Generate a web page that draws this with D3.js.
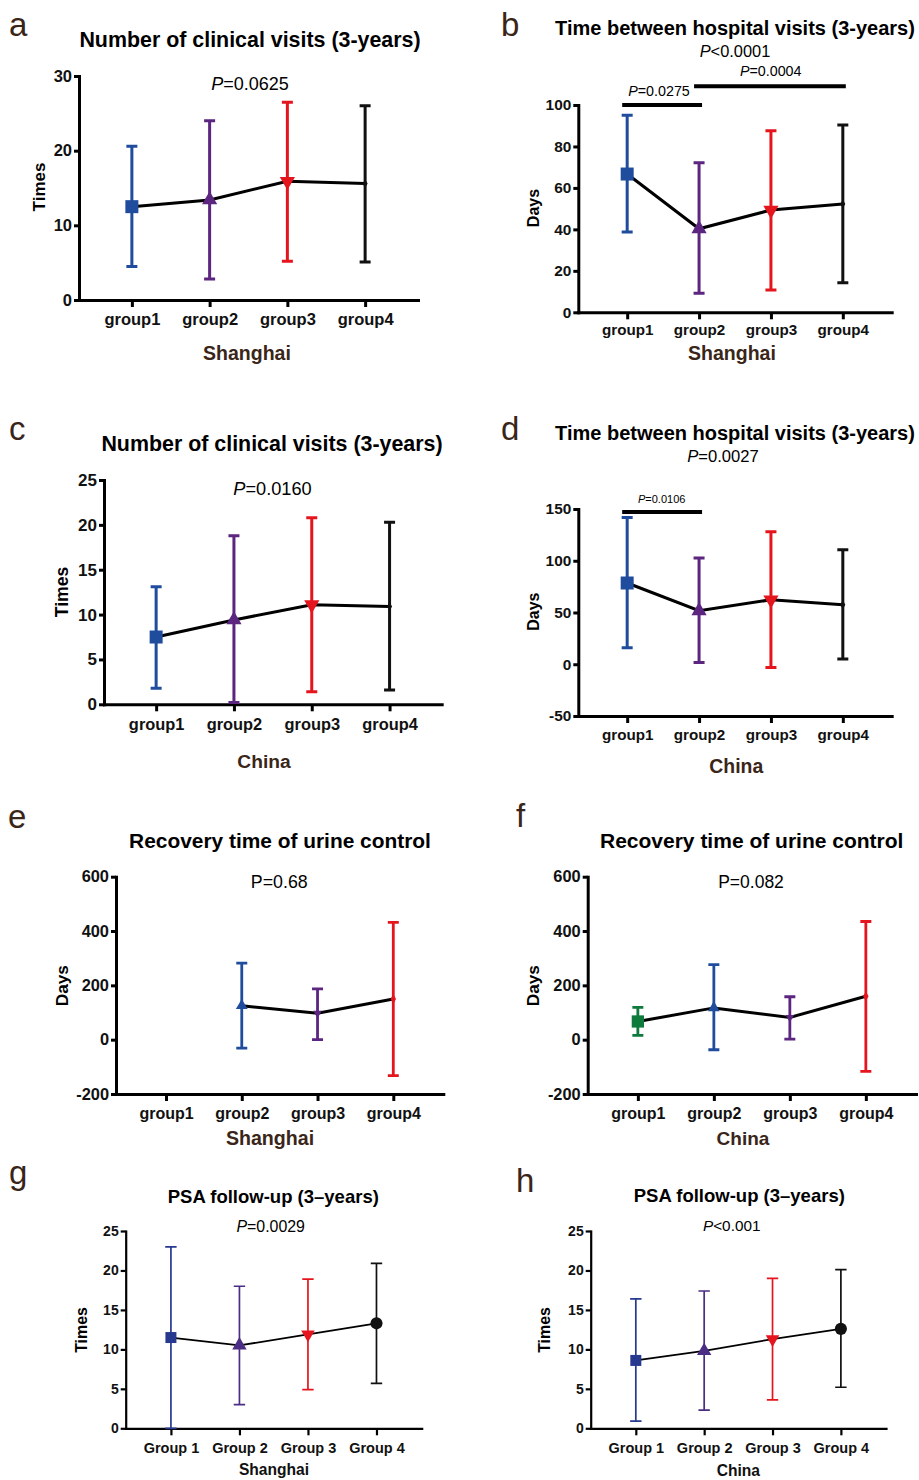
<!DOCTYPE html>
<html>
<head>
<meta charset="UTF-8">
<title>Clinical visits, hospital intervals, urine control and PSA follow-up</title>
<style>
  body { margin: 0; background: #fff; }
</style>
</head>
<body>
<script src="https://cdn.jsdelivr.net/npm/d3@7"></script>
<script>
// categories
var groups = ["group1", "group2", "group3", "group4"];
var groupsPSA = ["Group 1", "Group 2", "Group 3", "Group 4"];

// a - number of clinical visits, Shanghai
var visitsSH_mean = [12.5, 13.4, 15.9, 15.6];
var visitsSH_low  = [4.5, 2.8, 5.2, 5.1];
var visitsSH_high = [20.6, 24.0, 26.5, 26.0];
// b - time between hospital visits, Shanghai
var intervalSH_mean = [66.7, 40.3, 49.3, 52.3];
var intervalSH_low  = [38.7, 9.2, 10.8, 14.3];
var intervalSH_high = [95.0, 72.2, 87.6, 90.4];
var intervalSH_sig  = [["group1", "group2", 100], ["group2", "group4", 109]];
// c - number of clinical visits, China
var visitsCN_mean = [7.5, 9.4, 11.1, 10.9];
var visitsCN_low  = [1.8, 0.2, 1.4, 1.6];
var visitsCN_high = [13.1, 18.8, 20.8, 20.3];
// d - time between hospital visits, China
var intervalCN_mean = [78.5, 51.7, 62.3, 57.5];
var intervalCN_low  = [16, 1.8, -3.1, 5];
var intervalCN_high = [141.8, 102.6, 128, 110.6];
var intervalCN_sig  = [["group1", "group2", 147]];
// e - recovery time of urine control, Shanghai (no group1 data)
var urineSH_mean = [null, 125, 97, 150];
var urineSH_low  = [null, -31, 0, -132];
var urineSH_high = [null, 282, 187, 432];
// f - recovery time of urine control, China
var urineCN_mean = [67, 117, 82, 160];
var urineCN_low  = [16, -37, 2, -117];
var urineCN_high = [119, 276, 158, 435];
// g - PSA follow-up, Shanghai
var psaSH_mean = [11.5, 10.5, 11.9, 13.3];
var psaSH_low  = [0, 3.0, 4.9, 5.7];
var psaSH_high = [23.0, 18.0, 18.9, 20.9];
// h - PSA follow-up, China
var psaCN_mean = [8.6, 9.8, 11.3, 12.6];
var psaCN_low  = [0.9, 2.3, 3.6, 5.2];
var psaCN_high = [16.4, 17.4, 19.0, 20.1];

// tick values
var ticksVisitsSH = [0, 10, 20, 30];
var ticksIntervalSH = [0, 20, 40, 60, 80, 100];
var ticks25 = [0, 5, 10, 15, 20, 25];
var ticksIntervalCN = [-50, 0, 50, 100, 150];
var ticksUrine = [-200, 0, 200, 400, 600];

// colours
var blue = "#1f4c9c", purple = "#5b2580", red = "#e5151e", black = "#111111",
    green = "#0e7a3b", navy = "#27398f", violet = "#4b2d85";
var brown = "#3a2519";

var FONT = "'Liberation Sans', Arial, Helvetica, sans-serif";

var svg = d3.select("body").append("svg")
    .attr("width", 919)
    .attr("height", 1480)
    .style("font-family", FONT);

function symbolType(s) {
    if (s === "square") return d3.symbolSquare;
    if (s === "diamond") return d3.symbolDiamond;
    if (s === "circle") return d3.symbolCircle;
    return d3.symbolTriangle;
}

function addText(g, o) {
    var t = g.append("text")
        .attr("x", o.x).attr("y", o.y)
        .attr("text-anchor", o.anchor || "middle")
        .attr("font-size", o.fs)
        .attr("font-weight", o.bold ? "bold" : "normal")
        .attr("fill", o.fill || "#000");
    if (o.rotate) t.attr("transform", "rotate(-90," + o.x + "," + o.y + ")");
    if (o.italicP) {
        t.append("tspan").attr("font-style", "italic").text("P");
        t.append("tspan").text(o.t);
    } else {
        t.text(o.t);
    }
    return t;
}

function drawPanel(p) {
    var g = svg.append("g");
    var x = d3.scalePoint().domain(p.cats).range([p.left, p.right]).padding(p.pad);
    var y = d3.scaleLinear().domain(p.yDomain).range([p.bottom, p.top]);

    // axes (plain hyphen for negatives, like the original)
    var ya = g.append("g")
        .attr("transform", "translate(" + p.left + ",0)")
        .call(d3.axisLeft(y).tickValues(p.yTicks).tickFormat(function (d) { return String(d); })
            .tickSize(5).tickSizeOuter(0).tickPadding(2));
    var xa = g.append("g")
        .attr("transform", "translate(0," + p.bottom + ")")
        .call(d3.axisBottom(x).tickSize(7).tickSizeOuter(0));
    [ya, xa].forEach(function (a) {
        a.attr("font-family", null).attr("font-size", null);
        a.selectAll("path, line").attr("stroke", "#000").attr("stroke-width", p.axisW);
        a.select(".domain").attr("stroke-linecap", "square");
        a.selectAll("text").attr("fill", "#111").attr("font-weight", "bold");
    });
    ya.selectAll("text").attr("font-size", p.numFs);
    xa.selectAll("text").attr("font-size", p.xTickFs).attr("y", p.xLabelOff).attr("dy", null);

    var rows = p.cats.map(function (c, i) {
        return { c: c, m: p.mean[i], lo: p.low[i], hi: p.high[i],
                 col: p.colors[i], shape: p.shapes[i], size: p.sizes[i] };
    }).filter(function (d) { return d.m != null; });

    // error bars
    var cw = p.capW;
    g.selectAll(".eb").data(rows).join("path")
        .attr("class", "eb")
        .attr("d", function (d) {
            var cx = x(d.c);
            return "M" + cx + "," + y(d.lo) + "V" + y(d.hi) +
                   "M" + (cx - cw) + "," + y(d.lo) + "h" + (2 * cw) +
                   "M" + (cx - cw) + "," + y(d.hi) + "h" + (2 * cw);
        })
        .attr("stroke", function (d) { return d.col; })
        .attr("stroke-width", p.barW)
        .attr("fill", "none");

    // mean line
    g.append("path").datum(rows)
        .attr("d", d3.line().x(function (d) { return x(d.c); }).y(function (d) { return y(d.m); }))
        .attr("stroke", "#000")
        .attr("stroke-width", p.lineW)
        .attr("fill", "none");

    // mean markers
    g.selectAll(".mk").data(rows).join("path")
        .attr("class", "mk")
        .attr("transform", function (d) {
            return "translate(" + x(d.c) + "," + y(d.m) + ")" + (d.shape === "triangleDown" ? " rotate(180)" : "");
        })
        .attr("d", function (d) { return d3.symbol(symbolType(d.shape), d.size)(); })
        .attr("fill", function (d) { return d.col; });

    // significance bars
    (p.sig || []).forEach(function (s) {
        g.append("line")
            .attr("x1", x(s[0]) - 5).attr("x2", x(s[1]) + 3)
            .attr("y1", y(s[2])).attr("y2", y(s[2]))
            .attr("stroke", "#000").attr("stroke-width", 4);
    });

    // texts
    addText(g, { t: p.letter, x: p.letterX, y: p.letterY, fs: 33, anchor: "start", fill: brown });
    addText(g, { t: p.title, x: p.titleX, y: p.titleY, fs: p.titleFs, bold: true });
    p.pTexts.forEach(function (o) { addText(g, o); });
    addText(g, { t: p.xTitle, x: p.xTitleX, y: p.xTitleY, fs: p.xTitleFs, bold: true, fill: p.xTitleFill || brown });
    addText(g, { t: p.yTitle, x: p.yTitleX, y: p.yTitleY, fs: p.yTitleFs, bold: true, rotate: true });
}

var thick = { axisW: 3, barW: 3, lineW: 3, capW: 5.5 };
var thin = { axisW: 2.2, barW: 1.7, lineW: 1.8, capW: 5.7 };
function withStyle(s, o) { return Object.assign({}, s, o); }

var panels = [
  withStyle(thick, {
    cats: groups, mean: visitsSH_mean, low: visitsSH_low, high: visitsSH_high,
    colors: [blue, purple, red, black], shapes: ["square", "triangle", "triangleDown", "diamond"], sizes: [169, 100, 100, 22],
    left: 79, right: 418, top: 76, bottom: 300, pad: 0.68, yDomain: [0, 30], yTicks: ticksVisitsSH,
    numFs: 16.5, xTickFs: 16.5, xLabelOff: 25,
    letter: "a", letterX: 9, letterY: 36,
    title: "Number of clinical visits (3-years)", titleX: 250, titleY: 47, titleFs: 21.4,
    pTexts: [{ t: "=0.0625", italicP: true, x: 250, y: 90, fs: 18 }],
    xTitle: "Shanghai", xTitleX: 247, xTitleY: 360, xTitleFs: 19.5,
    yTitle: "Times", yTitleX: 45, yTitleY: 187, yTitleFs: 17
  }),
  withStyle(thick, {
    cats: groups, mean: intervalSH_mean, low: intervalSH_low, high: intervalSH_high, sig: intervalSH_sig,
    colors: [blue, purple, red, black], shapes: ["square", "triangle", "triangleDown", "diamond"], sizes: [169, 100, 100, 22],
    left: 578.3, right: 891.7, top: 105, bottom: 312.3, pad: 0.68, yDomain: [0, 100], yTicks: ticksIntervalSH,
    numFs: 15.4, xTickFs: 15.2, xLabelOff: 22.7,
    letter: "b", letterX: 501, letterY: 36,
    title: "Time between hospital visits (3-years)", titleX: 735, titleY: 35, titleFs: 20,
    pTexts: [
      { t: "<0.0001", italicP: true, x: 735, y: 57, fs: 16.4 },
      { t: "=0.0004", italicP: true, x: 770.7, y: 76, fs: 14.3 },
      { t: "=0.0275", italicP: true, x: 659, y: 96, fs: 14.3 }
    ],
    xTitle: "Shanghai", xTitleX: 732, xTitleY: 360, xTitleFs: 19.5,
    yTitle: "Days", yTitleX: 539, yTitleY: 208, yTitleFs: 16
  }),
  withStyle(thick, {
    cats: groups, mean: visitsCN_mean, low: visitsCN_low, high: visitsCN_high,
    colors: [blue, purple, red, black], shapes: ["square", "triangle", "triangleDown", "diamond"], sizes: [169, 100, 100, 22],
    left: 104, right: 441.7, top: 480, bottom: 704.3, pad: 0.67, yDomain: [0, 25], yTicks: ticks25,
    numFs: 17, xTickFs: 16.4, xLabelOff: 25.7,
    letter: "c", letterX: 9, letterY: 440,
    title: "Number of clinical visits (3-years)", titleX: 272, titleY: 450.7, titleFs: 21.4,
    pTexts: [{ t: "=0.0160", italicP: true, x: 272.5, y: 495, fs: 18.2 }],
    xTitle: "China", xTitleX: 264, xTitleY: 768, xTitleFs: 19.2,
    yTitle: "Times", yTitleX: 68, yTitleY: 592, yTitleFs: 17.6
  }),
  withStyle(thick, {
    cats: groups, mean: intervalCN_mean, low: intervalCN_low, high: intervalCN_high, sig: intervalCN_sig,
    colors: [blue, purple, red, black], shapes: ["square", "triangle", "triangleDown", "diamond"], sizes: [169, 100, 100, 22],
    left: 578.3, right: 891.7, top: 509, bottom: 716, pad: 0.68, yDomain: [-50, 150], yTicks: ticksIntervalCN,
    numFs: 15.4, xTickFs: 15.2, xLabelOff: 24,
    letter: "d", letterX: 501, letterY: 440,
    title: "Time between hospital visits (3-years)", titleX: 735, titleY: 440, titleFs: 20,
    pTexts: [
      { t: "=0.0027", italicP: true, x: 723, y: 461.7, fs: 16.6 },
      { t: "=0.0106", italicP: true, x: 661.7, y: 503, fs: 11 }
    ],
    xTitle: "China", xTitleX: 736.3, xTitleY: 773, xTitleFs: 19.4,
    yTitle: "Days", yTitleX: 539, yTitleY: 611.7, yTitleFs: 16
  }),
  withStyle(thick, {
    cats: groups, mean: urineSH_mean, low: urineSH_low, high: urineSH_high,
    colors: [green, blue, purple, red], shapes: ["square", "triangle", "triangleDown", "diamond"], sizes: [150, 60, 32, 26],
    left: 116, right: 443.3, top: 876.7, bottom: 1094, pad: 0.66, yDomain: [-200, 600], yTicks: ticksUrine,
    numFs: 16.4, xTickFs: 16, xLabelOff: 25, barW: 2.8,
    letter: "e", letterX: 8, letterY: 828,
    title: "Recovery time of urine control", titleX: 280, titleY: 848, titleFs: 20.9,
    pTexts: [{ t: "P=0.68", x: 279.3, y: 888, fs: 17.8 }],
    xTitle: "Shanghai", xTitleX: 270, xTitleY: 1145, xTitleFs: 19.6,
    yTitle: "Days", yTitleX: 68, yTitleY: 985.7, yTitleFs: 17.2
  }),
  withStyle(thick, {
    cats: groups, mean: urineCN_mean, low: urineCN_low, high: urineCN_high,
    colors: [green, blue, purple, red], shapes: ["square", "triangle", "triangleDown", "diamond"], sizes: [150, 60, 32, 26],
    left: 587.7, right: 916, top: 876.7, bottom: 1094, pad: 0.66, yDomain: [-200, 600], yTicks: ticksUrine,
    numFs: 16.4, xTickFs: 16, xLabelOff: 25, barW: 2.8,
    letter: "f", letterX: 516, letterY: 827,
    title: "Recovery time of urine control", titleX: 751.7, titleY: 848, titleFs: 21,
    pTexts: [{ t: "P=0.082", x: 751, y: 888, fs: 17.5 }],
    xTitle: "China", xTitleX: 743, xTitleY: 1145, xTitleFs: 19,
    yTitle: "Days", yTitleX: 539, yTitleY: 985.7, yTitleFs: 17.2
  }),
  withStyle(thin, {
    cats: groupsPSA, mean: psaSH_mean, low: psaSH_low, high: psaSH_high,
    colors: [navy, violet, red, black], shapes: ["square", "triangle", "triangleDown", "circle"], sizes: [121, 90, 80, 115],
    left: 125.7, right: 421.7, top: 1231, bottom: 1428.3, pad: 0.66, yDomain: [0, 25], yTicks: ticks25,
    numFs: 14, xTickFs: 14.5, xLabelOff: 24.4,
    letter: "g", letterX: 9, letterY: 1184,
    title: "PSA follow-up (3\u2013years)", titleX: 273.3, titleY: 1203, titleFs: 18.5,
    pTexts: [{ t: "=0.0029", italicP: true, x: 270.7, y: 1231.7, fs: 15.9 }],
    xTitle: "Shanghai", xTitleX: 274, xTitleY: 1475, xTitleFs: 15.6, xTitleFill: "#111",
    yTitle: "Times", yTitleX: 87, yTitleY: 1330, yTitleFs: 15.9
  }),
  withStyle(thin, {
    cats: groupsPSA, mean: psaCN_mean, low: psaCN_low, high: psaCN_high,
    colors: [navy, violet, red, black], shapes: ["square", "triangle", "triangleDown", "circle"], sizes: [121, 90, 80, 115],
    left: 590.7, right: 886, top: 1231, bottom: 1428.3, pad: 0.66, yDomain: [0, 25], yTicks: ticks25,
    numFs: 14, xTickFs: 14.5, xLabelOff: 24.4,
    letter: "h", letterX: 516, letterY: 1192,
    title: "PSA follow-up (3\u2013years)", titleX: 739.3, titleY: 1201.7, titleFs: 18.5,
    pTexts: [{ t: "<0.001", italicP: true, x: 731.7, y: 1230.7, fs: 15.3 }],
    xTitle: "China", xTitleX: 738.3, xTitleY: 1476, xTitleFs: 15.6, xTitleFill: "#111",
    yTitle: "Times", yTitleX: 550, yTitleY: 1330, yTitleFs: 15.9
  })
];

panels.forEach(drawPanel);
</script>
</body>
</html>
